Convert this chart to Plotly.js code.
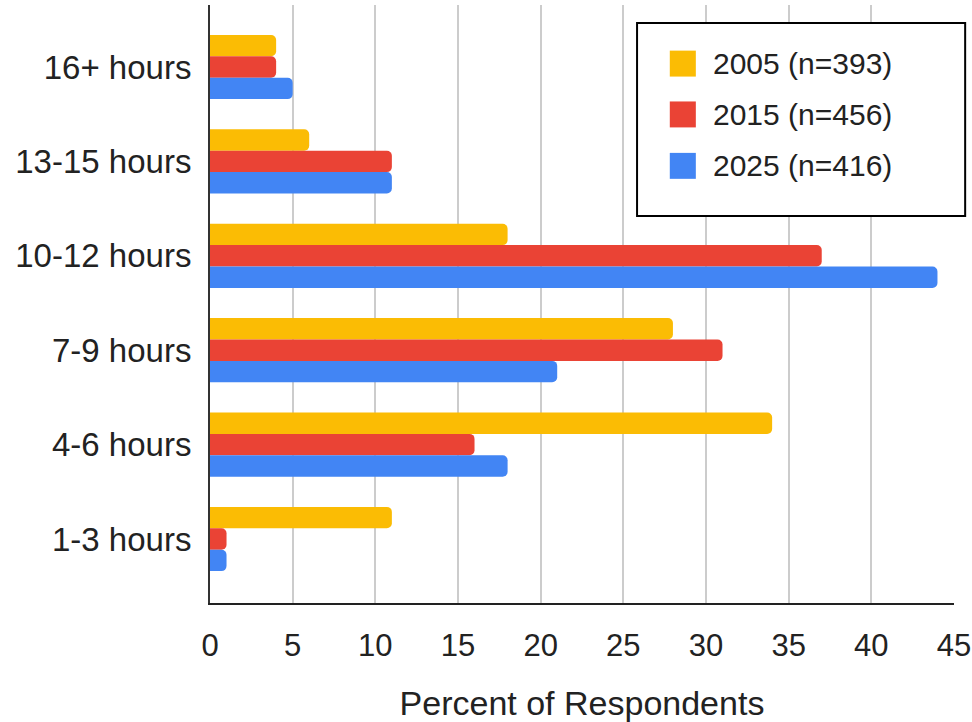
<!DOCTYPE html>
<html>
<head>
<meta charset="utf-8">
<script src="https://cdn.plot.ly/plotly-3.0.1.min.js"></script>
<style>html,body{margin:0;padding:0;background:#fff;}#chart{width:972px;height:722px;}</style>
</head>
<body>
<div id="chart"></div>
<script>
// Categories (top to bottom)
const categories = ["16+ hours", "13-15 hours", "10-12 hours", "7-9 hours", "4-6 hours", "1-3 hours"];
// Series values (percent of respondents)
const values2005 = [4, 6, 18, 28, 34, 11];
const values2015 = [4, 11, 37, 31, 16, 1];
const values2025 = [5, 11, 44, 21, 18, 1];
const seriesNames = ["2005 (n=393)", "2015 (n=456)", "2025 (n=416)"];
const seriesColors = ["#FBBC04", "#EA4335", "#4285F4"];
const xTickValues = [0, 5, 10, 15, 20, 25, 30, 35, 40, 45];
const xTitle = "Percent of Respondents";

const seriesValues = [values2005, values2015, values2025];
const traces = seriesValues.map((vals, i) => ({
  type: "bar",
  orientation: "h",
  y: categories,
  x: vals,
  name: seriesNames[i],
  marker: { color: seriesColors[i], cornerradius: 5 },
  showlegend: false,
  hoverinfo: "x+name"
}));

// custom legend box (paper coords)
const shapes = [{
  type: "rect", xref: "paper", yref: "paper",
  x0: 0.574, x1: 1.015, y0: 0.647, y1: 0.970,
  line: { color: "#000", width: 2 }, fillcolor: "#fff", layer: "above"
}];
const annotations = [];
const rowY = [0.902, 0.817, 0.731];
seriesNames.forEach((nm, i) => {
  shapes.push({
    type: "rect", xref: "paper", yref: "paper",
    x0: 0.618, x1: 0.653, y0: rowY[i] - 0.0217, y1: rowY[i] + 0.0217,
    line: { width: 0 }, fillcolor: seriesColors[i], layer: "above"
  });
  annotations.push({
    xref: "paper", yref: "paper", x: 0.674, y: rowY[i],
    xanchor: "left", yanchor: "middle", showarrow: false,
    text: nm, font: { family: "Liberation Sans, Arial, sans-serif", size: 30, color: "#222" }
  });
});

const layout = {
  width: 972, height: 722,
  margin: { l: 210, r: 18, t: 5, b: 119 },
  paper_bgcolor: "#fff", plot_bgcolor: "#fff",
  barmode: "group",
  bargap: 0.32, bargroupgap: 0,
  font: { family: "Liberation Sans, Arial, sans-serif", color: "#222" },
  xaxis: {
    range: [0, 45], tickvals: xTickValues, ticktext: xTickValues.map(String),
    showgrid: true, gridcolor: "#cccccc", gridwidth: 2,
    zeroline: false, showline: true, linecolor: "#222", linewidth: 2,
    ticks: "", ticklabelstandoff: 14,
    tickfont: { size: 31, color: "#222" },
    title: { text: xTitle, font: { size: 34, color: "#222" }, standoff: 30 }
  },
  yaxis: {
    type: "category", categoryorder: "array", categoryarray: categories,
    range: [5.678, -0.657], autorange: false,
    showgrid: false, zeroline: false, showline: true, linecolor: "#333", linewidth: 2,
    ticks: "", ticklabelstandoff: 10,
    tickfont: { size: 33, color: "#222" }
  },
  shapes: shapes,
  annotations: annotations
};

Plotly.newPlot("chart", traces, layout, { displayModeBar: false, staticPlot: true });
</script>
</body>
</html>
